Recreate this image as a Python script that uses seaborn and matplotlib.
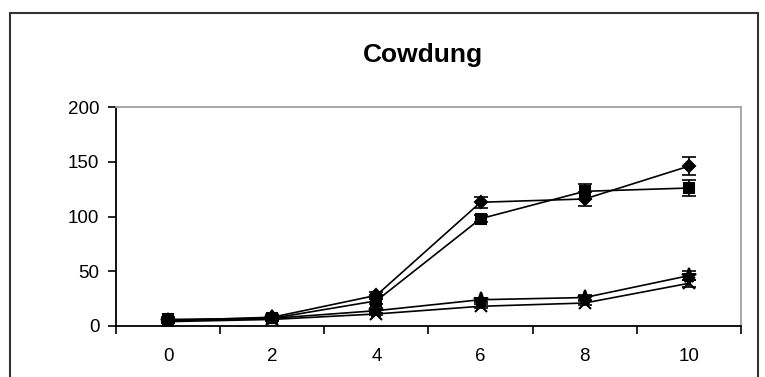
import matplotlib
matplotlib.use("Agg")
import matplotlib.pyplot as plt
import seaborn as sns
import numpy as np
from matplotlib.patches import Rectangle

days = [0, 2, 4, 6, 8, 10]
series_names = ["A", "B", "C", "D"]
markers = ["D", "s", "*", "x"]
marker_sizes = [6, 7.5, 11, 8]
vals_a = [5, 8, 28, 113, 116, 146]
vals_b = [6, 7, 23, 98, 123, 126]
vals_c = [5, 7, 14, 24, 26, 46]
vals_d = [4, 6, 11, 18, 21, 39]
err_a = [2, 2, 3, 5, 6, 8]
err_b = [2, 2, 3, 3, 7, 7]
err_c = [1, 1, 2, 2, 2, 4]
err_d = [1, 1, 1, 2, 2, 3]

vals = [vals_a, vals_b, vals_c, vals_d]
errs = [err_a, err_b, err_c, err_d]

sns.set_style("white")
plt.rcParams['font.family'] = ['Liberation Sans', 'DejaVu Sans']
plt.rcParams['text.color'] = 'black'
plt.rcParams['xtick.color'] = 'black'
plt.rcParams['ytick.color'] = 'black'

fig = plt.figure(figsize=(7.65, 3.77), dpi=100)
ax = fig.add_axes([116 / 765, 1 - 326 / 377, (741 - 116) / 765, (326 - 107) / 377])

pos = list(range(len(days)))
for name, m, ms, v, e in zip(series_names, markers, marker_sizes, vals, errs):
    sns.lineplot(x=pos, y=v, color="black", marker=m, markersize=ms,
                 linewidth=1.2, markeredgecolor="black", markerfacecolor="black",
                 markeredgewidth=1.5, ax=ax)
    ax.errorbar(pos, v, yerr=e, fmt="none", ecolor="black",
                elinewidth=1.2, capsize=5, capthick=1.2)

ax.set_xlim(-0.5, len(days) - 0.5)
ax.set_ylim(0, 200)
ax.set_yticks([0, 50, 100, 150, 200])
ax.set_xticks(pos)
ax.set_xticklabels([str(d) for d in days])
ax.set_xticks(np.arange(-0.5, len(days)), minor=True)
ax.tick_params(axis="x", which="major", length=0, pad=16, labelsize=13.5)
ax.tick_params(axis="x", which="minor", length=6, width=1.2, direction="out", color="black", bottom=True)
ax.tick_params(axis="y", length=6, width=1.2, direction="out", color="black", labelsize=13.5, pad=6, left=True)
ax.set_xlabel("")
ax.set_ylabel("")

for s in ["left", "bottom"]:
    ax.spines[s].set_color("black")
    ax.spines[s].set_linewidth(1.3)
for s in ["top", "right"]:
    ax.spines[s].set_color("#a0a0a0")
    ax.spines[s].set_linewidth(1.3)

fig.text(423 / 765, 1 - 55 / 377, "Cowdung", ha="center", va="center",
         fontsize=19, fontweight="bold", color="black")

fig.patches.append(Rectangle((10 / 765, -0.05), 748 / 765, 1.05 - 13 / 377,
                             transform=fig.transFigure, fill=False,
                             edgecolor="#333333", linewidth=1.5))

fig.savefig("out.png", dpi=100)
